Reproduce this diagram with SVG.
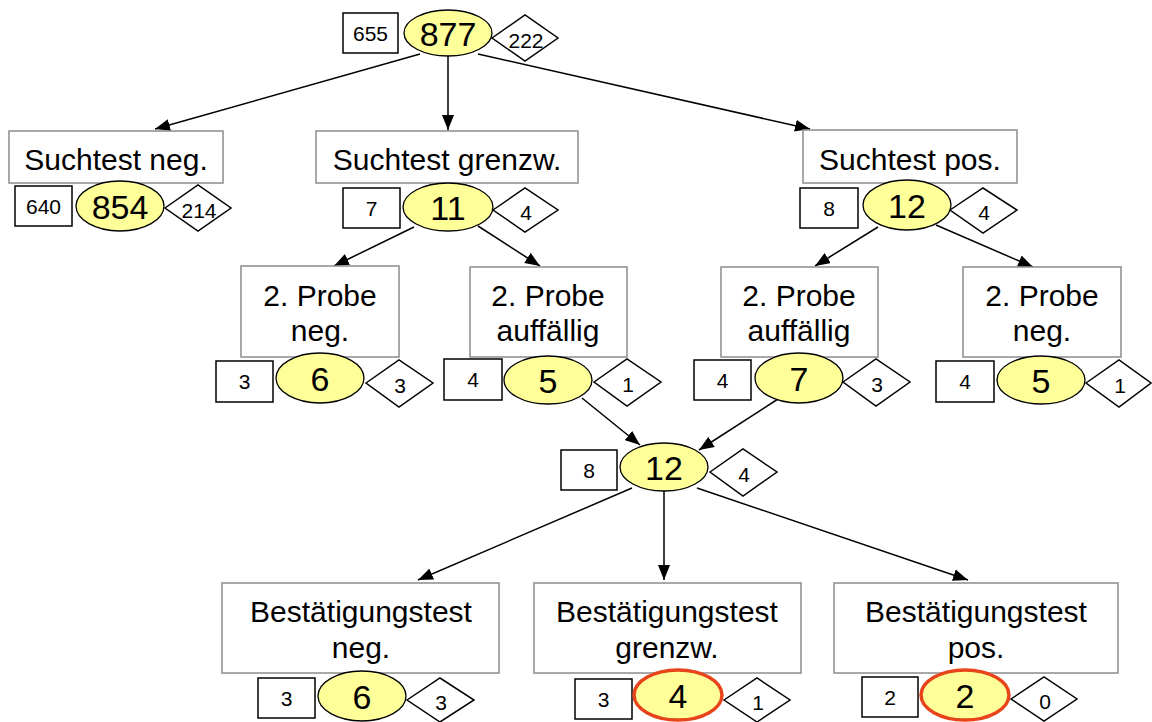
<svg xmlns="http://www.w3.org/2000/svg" width="1152" height="722" viewBox="0 0 1152 722">
<style>
text{font-family:"Liberation Sans",Arial,sans-serif;fill:#000;text-anchor:middle}
.lbl{fill:#fff;stroke:#8c8c8c;stroke-width:1.5}
.lt{font-size:30px}
.sq{fill:#fff;stroke:#000;stroke-width:1.5}
.dm{fill:#fff;stroke:#000;stroke-width:1.5}
.el{fill:#ffff99;stroke:#000;stroke-width:1.3}
.red{fill:#ffff99;stroke:#e8441c;stroke-width:3.5}
.big{font-size:34px}
.sm{font-size:21px}
.con line{stroke:#000;stroke-width:1.5;marker-end:url(#ah)}
</style>
<defs>
<marker id="ah" markerUnits="userSpaceOnUse" markerWidth="16" markerHeight="12" refX="15" refY="6" orient="auto">
<path d="M0,0 L15,6 L0,12 Z" fill="#000"/>
</marker>
</defs>

<g id="connectors" class="con">
<line x1="420" y1="54" x2="155" y2="129"/>
<line x1="448" y1="56" x2="448" y2="130"/>
<line x1="478" y1="54" x2="810" y2="129"/>
<line x1="414" y1="227" x2="334" y2="266"/>
<line x1="478" y1="226" x2="540" y2="266"/>
<line x1="878" y1="227" x2="815" y2="266"/>
<line x1="936" y1="225" x2="1033" y2="267"/>
<line x1="582" y1="398" x2="640" y2="445"/>
<line x1="778" y1="399" x2="699" y2="450"/>
<line x1="632" y1="488" x2="418" y2="580"/>
<line x1="664" y1="491" x2="664" y2="580"/>
<line x1="697" y1="488" x2="968" y2="580"/>
</g>

<g id="root">
<rect class="sq" x="343" y="13" width="55" height="40"/>
<text class="sm" x="370.5" y="41">655</text>
<ellipse class="el" cx="448" cy="33" rx="44" ry="23"/>
<text class="big" x="448" y="46">877</text>
<polygon class="dm" points="492,38 525,15 558,38 525,61"/>
<text class="sm" x="526" y="48">222</text>
</g>

<g id="suchtest-neg">
<rect class="lbl" x="9" y="131" width="214" height="52"/>
<text class="lt" x="116" y="170">Suchtest neg.</text>
<rect class="sq" x="15" y="186" width="57" height="40"/>
<text class="sm" x="43.5" y="214">640</text>
<ellipse class="el" cx="120" cy="206" rx="44" ry="25"/>
<text class="big" x="120" y="219">854</text>
<polygon class="dm" points="165,208 198,185 231,208 198,231"/>
<text class="sm" x="199" y="218">214</text>
</g>

<g id="suchtest-grenzw">
<rect class="lbl" x="316" y="131" width="262" height="52"/>
<text class="lt" x="447" y="170">Suchtest grenzw.</text>
<rect class="sq" x="343" y="188" width="57" height="40"/>
<text class="sm" x="371.5" y="216">7</text>
<ellipse class="el" cx="448" cy="207" rx="45" ry="24"/>
<text class="big" x="448" y="220">11</text>
<polygon class="dm" points="493,210 525,188 558,210 525,232"/>
<text class="sm" x="526" y="220">4</text>
</g>

<g id="suchtest-pos">
<rect class="lbl" x="803" y="130" width="214" height="53"/>
<text class="lt" x="910" y="170">Suchtest pos.</text>
<rect class="sq" x="800" y="188" width="58" height="40"/>
<text class="sm" x="829" y="216">8</text>
<ellipse class="el" cx="907" cy="205" rx="44" ry="25"/>
<text class="big" x="907" y="218">12</text>
<polygon class="dm" points="950,210 983,188 1017,210 983,233"/>
<text class="sm" x="984" y="220">4</text>
</g>

<g id="probe2-neg-left">
<rect class="lbl" x="241" y="266" width="158" height="91"/>
<text class="lt" x="320" y="306">2. Probe</text>
<text class="lt" x="320" y="341">neg.</text>
<rect class="sq" x="216" y="361" width="57" height="41"/>
<text class="sm" x="244.5" y="389">3</text>
<ellipse class="el" cx="320" cy="378" rx="44" ry="25"/>
<text class="big" x="320" y="391">6</text>
<polygon class="dm" points="366,383 399,360 433,383 399,407"/>
<text class="sm" x="400" y="393">3</text>
</g>

<g id="probe2-auff-left">
<rect class="lbl" x="470" y="267" width="157" height="90"/>
<text class="lt" x="548" y="306">2. Probe</text>
<text class="lt" x="548" y="341">auffällig</text>
<rect class="sq" x="444" y="359" width="58" height="41"/>
<text class="sm" x="473" y="387">4</text>
<ellipse class="el" cx="548" cy="380" rx="44" ry="24"/>
<text class="big" x="548" y="393">5</text>
<polygon class="dm" points="594,382 627,359 661,382 627,406"/>
<text class="sm" x="628" y="392">1</text>
</g>

<g id="probe2-auff-right">
<rect class="lbl" x="721" y="267" width="157" height="90"/>
<text class="lt" x="799" y="306">2. Probe</text>
<text class="lt" x="799" y="341">auffällig</text>
<rect class="sq" x="694" y="360" width="57" height="40"/>
<text class="sm" x="722.5" y="388">4</text>
<ellipse class="el" cx="799" cy="378" rx="44" ry="25"/>
<text class="big" x="799" y="391">7</text>
<polygon class="dm" points="843,382 876,359 910,382 876,406"/>
<text class="sm" x="877" y="392">3</text>
</g>

<g id="probe2-neg-right">
<rect class="lbl" x="963" y="267" width="158" height="90"/>
<text class="lt" x="1042" y="306">2. Probe</text>
<text class="lt" x="1042" y="341">neg.</text>
<rect class="sq" x="936" y="361" width="58" height="41"/>
<text class="sm" x="965" y="389">4</text>
<ellipse class="el" cx="1041" cy="380" rx="44" ry="24"/>
<text class="big" x="1041" y="393">5</text>
<polygon class="dm" points="1086,383 1119,360 1151,383 1119,407"/>
<text class="sm" x="1120" y="393">1</text>
</g>

<g id="merge">
<rect class="sq" x="561" y="450" width="56" height="40"/>
<text class="sm" x="589" y="478">8</text>
<ellipse class="el" cx="664" cy="467" rx="44" ry="24"/>
<text class="big" x="664" y="480">12</text>
<polygon class="dm" points="710,472 743,449 777,472 743,496"/>
<text class="sm" x="744" y="482">4</text>
</g>

<g id="bestaetigung-neg">
<rect class="lbl" x="222" y="583" width="277" height="90"/>
<text class="lt" x="361" y="622">Bestätigungstest</text>
<text class="lt" x="361" y="658">neg.</text>
<rect class="sq" x="258" y="678" width="57" height="40"/>
<text class="sm" x="286.5" y="706">3</text>
<ellipse class="el" cx="362" cy="696" rx="44" ry="25"/>
<text class="big" x="362" y="709">6</text>
<polygon class="dm" points="407,700 440,678 474,700 440,722"/>
<text class="sm" x="441" y="710">3</text>
</g>

<g id="bestaetigung-grenzw">
<rect class="lbl" x="534" y="583" width="267" height="90"/>
<text class="lt" x="667" y="622">Bestätigungstest</text>
<text class="lt" x="667" y="658">grenzw.</text>
<rect class="sq" x="575" y="679" width="57" height="40"/>
<text class="sm" x="603.5" y="707">3</text>
<ellipse class="red" cx="678" cy="695" rx="44" ry="25"/>
<text class="big" x="678" y="708">4</text>
<polygon class="dm" points="724,700 757,678 790,700 757,722"/>
<text class="sm" x="758" y="710">1</text>
</g>

<g id="bestaetigung-pos">
<rect class="lbl" x="834" y="583" width="284" height="90"/>
<text class="lt" x="976" y="622">Bestätigungstest</text>
<text class="lt" x="976" y="658">pos.</text>
<rect class="sq" x="862" y="677" width="56" height="40"/>
<text class="sm" x="890" y="705">2</text>
<ellipse class="red" cx="965" cy="695" rx="44" ry="25"/>
<text class="big" x="965" y="708">2</text>
<polygon class="dm" points="1011,699 1044,677 1077,699 1044,721"/>
<text class="sm" x="1045" y="709">0</text>
</g>
</svg>
